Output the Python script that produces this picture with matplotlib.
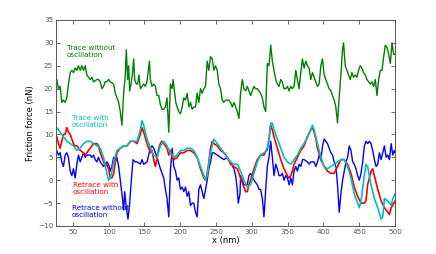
import matplotlib
matplotlib.use("Agg")
import matplotlib.pyplot as plt

# Trace without oscillation (green)
tr_no_x = [27.6, 29.9, 32.3, 34.6, 36.9, 39.3, 41.6, 43.9, 46.3, 48.6, 50.9, 53.3, 55.6, 57.9,
           60.3, 62.6, 64.9, 67.3, 69.6, 71.9, 74.3, 76.6, 78.9, 83.6, 85.9, 88.3, 90.6, 92.9,
           95.3, 97.6, 99.9, 102.3, 107.0, 109.3, 111.6, 114.0, 116.3, 118.6, 121.0, 123.3,
           124.7, 126.6, 128.0, 129.4, 131.2, 133.1, 135.0, 136.4, 138.7, 140.6, 142.4, 144.3,
           146.6, 149.0, 151.3, 153.6, 157.0, 158.3, 160.6, 163.0, 165.3, 167.6, 170.0, 172.3,
           174.6, 177.0, 179.3, 181.6, 184.0, 186.3, 188.7, 190.0, 191.9, 193.8, 195.7, 198.0,
           200.3, 202.7, 205.0, 207.3, 209.7, 212.0, 214.3, 216.7, 219.0, 221.3, 223.7, 226.0,
           228.3, 230.7, 233.0, 235.3, 237.7, 240.0, 242.3, 244.7, 247.0, 249.3, 251.7, 254.0,
           256.3, 258.7, 261.0, 263.3, 265.7, 268.0, 270.3, 272.7, 275.0, 277.3, 279.7, 282.0,
           284.3, 286.7, 289.0, 291.3, 293.7, 296.0, 298.3, 300.7, 303.0, 305.3, 307.7, 310.0,
           312.3, 314.7, 317.0, 319.3, 321.7, 324.0, 326.4, 328.7, 331.0, 333.4, 335.7, 338.0,
           340.4, 342.7, 345.0, 347.4, 349.7, 352.0, 354.4, 356.7, 359.0, 361.4, 363.7, 366.0,
           368.4, 370.7, 373.0, 375.4, 377.7, 380.0, 382.4, 384.7, 387.0, 389.4, 391.7, 394.0,
           396.4, 398.7, 401.0, 403.4, 405.7, 408.0, 410.4, 412.7, 415.0, 417.4, 419.7, 422.0,
           424.4, 426.7, 428.1, 430.5, 432.8, 435.1, 437.5, 439.8, 442.1, 444.5, 446.8, 449.1,
           451.5, 453.8, 456.1, 458.5, 460.8, 463.2, 465.5, 467.8, 470.2, 472.5, 474.8, 477.2,
           479.5, 481.8, 484.2, 486.5, 488.8, 491.2, 493.5, 495.8, 498.2, 500.0]
tr_no_y = [22, 20, 20.5, 17, 17.5, 17, 18, 21, 23.5, 24, 23.5, 24.5, 24, 25,
           24, 25, 24, 25, 23, 22.5, 22, 22.5, 21.5, 22, 22, 21.5, 20, 20.5,
           21.5, 21.5, 22, 21.5, 21, 19, 18, 17, 15, 12, 19, 23,
           28.5, 22, 25, 19.5, 21, 23, 26.5, 22, 21, 21, 23, 20,
           20.5, 21, 20.5, 21.5, 26, 22, 20.5, 21, 20.5, 18.5, 18.5, 16.5,
           15.5, 15.5, 16, 18, 10.5, 21, 20, 22, 19.5, 17, 16, 15,
           14.5, 16, 18, 17.5, 19, 16, 17, 15.5, 16, 16, 19, 17,
           20, 19, 20, 20.5, 26, 24, 27, 26.5, 24, 25, 24, 21,
           20, 17.5, 17, 17.5, 17.5, 17.5, 17, 16, 17, 16, 15, 13.5,
           19, 22, 20, 19.5, 20.5, 19.5, 18.5, 19.5, 20.5, 20, 20, 19.5,
           19, 18, 16, 15, 25.5, 25, 29.5, 26, 24, 22, 21, 20.5,
           22, 21.5, 20, 20, 20.5, 19.5, 20.5, 20, 20.5, 24, 22, 20,
           23.5, 26.5, 24.5, 26, 25, 24.5, 22, 23.5, 22.5, 21.5, 20.5, 21,
           25, 26.5, 23, 22, 21, 20, 19.5, 18.5, 17.5, 16, 12.5, 18,
           23, 28.5, 30, 25, 24, 23, 22, 23.5, 22.5, 23, 22.5, 24,
           25, 24.5, 23.5, 23, 22, 21.5, 21, 21.5, 20.5, 22, 18.5, 22,
           24, 24, 27, 29.5, 29, 27.5, 25.5, 30, 27.5, 27.5]

# Retrace with oscillation (red)
re_osc_x = [27.6, 29.9, 32.3, 34.6, 36.9, 39.3, 41.6, 43.9, 46.3, 48.6, 50.9, 53.3, 55.6, 60.3,
            64.9, 67.3, 69.6, 74.3, 78.9, 83.6, 85.9, 88.3, 90.6, 92.9, 95.3, 97.6, 99.9, 102.3,
            104.6, 107.0, 109.3, 111.6, 116.3, 121.0, 125.7, 130.3, 135.0, 139.7, 144.3, 146.6,
            149.0, 153.6, 158.3, 160.6, 163.0, 165.3, 167.6, 170.0, 172.3, 174.6, 177.0, 179.3,
            181.6, 184.0, 186.3, 188.7, 191.0, 195.7, 200.3, 205.0, 209.7, 214.3, 219.0, 223.7,
            228.3, 233.0, 235.3, 237.7, 240.0, 242.3, 244.7, 247.0, 251.7, 256.3, 261.0, 265.7,
            270.3, 275.0, 279.7, 284.3, 289.0, 291.3, 293.7, 296.0, 298.3, 303.0, 307.7, 312.3,
            317.0, 321.7, 324.0, 326.4, 328.7, 331.0, 335.7, 340.4, 345.0, 349.7, 352.1, 354.4,
            356.7, 359.0, 363.7, 368.4, 373.0, 377.7, 382.4, 384.7, 387.0, 389.5, 391.7, 396.4,
            401.0, 405.7, 410.4, 415.0, 419.7, 424.4, 429.1, 433.8, 438.5, 443.1, 447.8, 452.5,
            457.2, 459.5, 461.8, 466.5, 468.8, 471.2, 475.9, 480.6, 485.2, 489.9, 492.2, 494.6,
            496.9, 500.0]
re_osc_y = [9.5, 8, 7, 8.5, 10, 10, 11.5, 10.5, 10, 9, 8, 7.5, 7.5, 6.5,
            6, 5.5, 6, 7, 8, 8, 7.5, 6, 5, 4, 3, 3.5, 2.5, 0.5,
            0.5, 1.5, 4, 6, 7, 7.5, 7.5, 8.5, 8.5, 8, 10, 11.5,
            10.5, 8, 6, 6.5, 4.5, 3, 4.5, 7, 8, 8.5, 8, 7.5,
            7, 5.5, 6.5, 5, 4.5, 5, 6, 6, 6.5, 6.5, 6, 5,
            2.5, 0.5, 0, 1.5, 4, 7, 8.5, 8, 7.5, 6.5, 6, 5,
            3.5, 3, 2.5, 0.5, -1.5, -2.5, -2.5, -1, 0, 2.5, 4.5, 5.5,
            5.5, 7, 9, 12, 11, 9.5, 7, 4.5, 2.5, 1, 0.5, 1,
            2, 3.5, 5, 6.5, 7.5, 9.5, 11, 11.5, 10.5, 9, 7, 4.5,
            3, 2, 1.5, 1.5, 3, 4.5, 4.5, 3.5, 1.5, -1.5, -3.5, -5,
            -5, -4.5, -1, 2, 2.5, 1, -2, -4.5, -6, -7, -7.5, -6,
            -5.5, -4.5]

# Trace with oscillation (cyan)
tr_osc_x = [27.6, 32.3, 36.9, 41.6, 46.3, 50.9, 55.6, 60.3, 64.9, 69.6, 74.3, 78.9, 83.6, 88.3,
            92.9, 97.6, 99.9, 102.3, 104.6, 107.0, 111.6, 116.3, 121.0, 125.7, 130.3, 135.0,
            139.7, 144.3, 146.6, 149.0, 153.6, 158.3, 163.0, 167.6, 172.3, 177.0, 181.6, 186.3,
            191.0, 195.7, 200.3, 205.0, 209.7, 214.3, 219.0, 223.7, 228.3, 233.0, 235.3, 237.7,
            242.3, 247.0, 251.7, 256.3, 261.0, 265.7, 270.3, 275.0, 279.7, 284.3, 289.0, 293.7,
            298.3, 303.0, 307.7, 312.3, 317.0, 321.7, 324.0, 326.4, 328.7, 331.0, 335.7, 340.4,
            345.0, 349.7, 354.4, 359.0, 363.7, 368.4, 373.0, 377.7, 382.4, 384.7, 387.0, 391.7,
            396.4, 401.0, 405.7, 410.4, 415.0, 419.7, 424.4, 429.1, 433.8, 438.5, 443.1, 447.8,
            450.2, 452.5, 457.2, 459.5, 461.8, 466.5, 471.2, 475.9, 480.6, 482.9, 485.2, 489.9,
            494.6, 496.9, 500.0]
tr_osc_y = [11.5, 10.5, 9.5, 8.5, 8, 7.5, 6.5, 7, 8, 8.5, 8.5, 8, 7.5, 7,
            5, 1.5, 0, 0.5, 2, 4, 6.5, 7, 7.5, 7.5, 8.5, 8.5,
            8.5, 11, 13, 12, 9, 7, 5.5, 5, 7.5, 8.5, 7.5, 6,
            5, 5.5, 6.5, 6.5, 7, 7, 6.5, 5, 3, 1, 0, 1,
            6, 9, 8, 7, 6, 5, 4, 3.5, 3.5, 2, 0, -1.5,
            -1, 1.5, 4, 5.5, 6, 6.5, 9, 12.5, 12.5, 11, 9, 7,
            5, 4, 3.5, 4.5, 5.5, 7, 8, 9.5, 11, 12, 11, 8,
            5, 3, 2.5, 3, 3.5, 4, 4.5, 4.5, 3, 0.5, -3, -5,
            -6, -4.5, 1, 3.5, 3, -1, -4, -6, -8.5, -8, -4, -4.5,
            -5.5, -4, -3]

# Retrace without oscillation (blue)
re_no_x = [27.6, 29.9, 32.3, 34.6, 36.9, 39.3, 41.6, 43.9, 46.3, 48.6, 50.9, 53.3, 55.6, 57.9,
           60.3, 62.6, 64.9, 67.3, 69.6, 74.3, 76.6, 78.9, 81.3, 83.6, 85.9, 88.3, 92.9, 97.6,
           99.9, 102.3, 104.6, 107.0, 109.3, 111.6, 114.0, 116.3, 118.6, 121.0, 122.4, 124.7,
           127.1, 129.4, 131.7, 134.1, 137.3, 139.7, 144.3, 146.6, 149.0, 153.6, 158.3, 160.6,
           163.0, 165.3, 167.6, 172.3, 177.0, 179.3, 181.6, 184.0, 186.3, 188.7, 191.0, 193.4,
           195.7, 198.0, 200.3, 202.7, 205.0, 207.4, 209.7, 212.0, 214.3, 216.7, 219.0, 221.4,
           223.7, 226.0, 228.3, 230.7, 233.0, 235.3, 237.7, 240.0, 242.3, 244.7, 247.0, 251.7,
           256.3, 261.0, 265.7, 270.3, 275.0, 277.4, 279.7, 281.1, 283.5, 284.3, 286.7, 289.0,
           293.7, 296.0, 298.3, 303.0, 307.7, 310.0, 312.3, 314.7, 317.0, 319.4, 321.7, 324.0,
           326.4, 328.7, 331.0, 333.4, 335.7, 338.0, 340.4, 342.7, 345.0, 347.4, 349.7, 352.1,
           354.4, 356.7, 359.0, 361.4, 363.7, 366.1, 368.4, 370.8, 373.0, 377.7, 380.1, 382.4,
           387.0, 389.5, 391.7, 394.1, 396.4, 398.8, 401.0, 405.7, 408.1, 410.4, 412.8, 415.0,
           417.5, 419.7, 422.1, 424.4, 426.8, 429.1, 431.5, 433.8, 436.1, 438.5, 440.9, 443.1,
           445.5, 447.8, 450.2, 452.5, 454.9, 457.2, 459.5, 461.8, 464.2, 466.5, 468.8, 471.2,
           473.6, 475.9, 478.2, 480.6, 482.9, 485.2, 487.6, 489.9, 492.2, 494.6, 496.9, 499.0,
           500.0]
re_no_y = [6.5, 5.5, 6, 4, 3, 5.5, 6, 5, 2, 1, 2.5, 0.5, 3.5, 5.5,
           4, 5, 6, 5, 5.5, 5.5, 5, 5.5, 4.5, 4, 5, 4, 3, 4,
           3.5, 2, 3, 5, 4, 5, 3, 0, -3, -6.5, -2.5, -6,
           -8.5, -5, 0, 4.5, 4, 4, 3.5, 4.5, 3.5, 4, 7, 7.5,
           7, 6, 5, 2.5, 0.5, -2, -4, -8, 2, 7, 3, 2,
           0, 0.5, -2, -1.5, -2.5, -1.5, -3.5, -2.5, -5.5, -5, -5, -7,
           -8, -2, -1, -2.5, -4, -2, 0, 2.5, 4, 6, 6, 5.5,
           5, 4.5, 5, 4, 2.5, 1, -2, -5, -3, 1, 0, -1,
           -1, 1, 1.5, 0, -1, -2, -2, -4, -8, -2, 3, 5,
           8.5, 5, 1, 3.5, 2.5, 1, 1, 1.5, 0, 1, 0.5, -1,
           0.5, -1, 2, 3, 2, 3.5, 3, 4.5, 4.5, 4, 3.5, 4,
           4, 3, 4, 5.5, 4.5, 7.5, 9, 8, 7, 6, 5.5, 4,
           3, -1, -7, -3, 0, 2, 4, 5, 7.5, 6.5, 4, 3.5,
           2.5, 1, 0, 1.5, 4, 7.5, 8.5, 8, 8.5, 8, 6.5, 4.5,
           3, 3.5, 6, 4.5, 6, 7.5, 5, 5.5, 4.5, 8, 5.5, 6.5,
           6]

labels = ["Trace without\noscillation", "Trace with\noscillation",
          "Retrace with\noscillation", "Retrace without\noscillation"]
label_pos = [(42, 29.6), (49, 14.3), (50, -0.3), (49, -5.4)]
colors = ["#008000", "#00bfbf", "#ff0000", "#0000ff"]

fig = plt.figure(figsize=(4.36, 2.54), dpi=100)
ax = fig.add_axes([56 / 436, 1 - 226 / 254, 339 / 436, 206 / 254])

ax.plot(tr_no_x, tr_no_y, color=colors[0], lw=1.0)
ax.plot(re_no_x, re_no_y, color=colors[3], lw=1.0)
ax.plot(re_osc_x, re_osc_y, color=colors[2], lw=1.2)
ax.plot(tr_osc_x, tr_osc_y, color=colors[1], lw=1.2)

for txt, (tx, ty), c in zip(labels, label_pos, colors):
    ax.text(tx, ty, txt, color=c, fontsize=5.2, ha="left", va="top", linespacing=1.2)

ax.set_xlim(26.5, 500)
ax.set_ylim(-10, 35)
ax.set_xticks(range(50, 501, 50))
ax.set_yticks(range(-10, 36, 5))
ax.tick_params(direction="in", top=True, right=True, length=3, width=0.6,
               labelsize=5.2, labelcolor="#555555", color="#555555", pad=2)
for s in ax.spines.values():
    s.set_color("#555555")
    s.set_linewidth(0.7)
ax.set_xlabel("x (nm)", fontsize=6, labelpad=1)
ax.set_ylabel("Friction force (nN)", fontsize=6, labelpad=2)

fig.savefig("out.png", dpi=100)
